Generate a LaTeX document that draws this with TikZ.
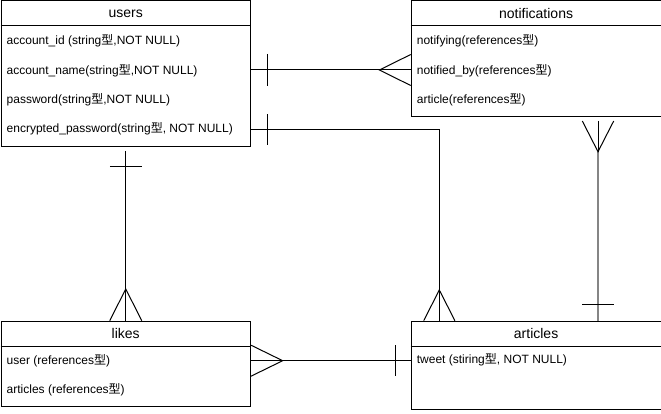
\documentclass[tikz,border=0pt]{standalone}
\usepackage{fontspec}
\setmainfont{Liberation Sans}
\newfontfamily\jpfont{Noto Sans CJK JP}
\newcommand{\kata}{{\jpfont 型}}
\usetikzlibrary{calc}
\definecolor{linkgray}{HTML}{858585}
\tikzset{
  table/.style={draw, line width=1pt, rectangle, inner sep=0pt, anchor=north west},
  head/.style={font=\fontsize{14}{16}\selectfont, inner sep=0pt},
  field/.style={font=\fontsize{12}{14}\selectfont, inner sep=0pt, anchor=west},
  rel/.style={line width=1pt, line cap=butt},
}
\begin{document}
\begin{tikzpicture}[x=1pt, y=-1pt]
\useasboundingbox (0,0) rectangle (661,414);

% ---- tables ----
\node[table, minimum width=249.5pt, minimum height=145.5pt] (users) at (0.5,0.5) {};
\node[table, minimum width=249.8pt, minimum height=115.5pt] (notif) at (410.7,0.5) {};
\node[table, minimum width=249.5pt, minimum height=85.3pt] (likes) at (0.5,320.7) {};
\node[table, minimum width=249.8pt, minimum height=88.6pt] (articles) at (410.7,320.7) {};

% header separators
\foreach \t in {users,notif,likes,articles}
  \draw[rel] ($(\t.north west)+(0,25.5)$) -- ($(\t.north east)+(0,25.5)$);

% headers
\node[head] (usersh) at ($(users.north)+(0,13)$) {users};
\node[head] (notifh) at ($(notif.north)+(0,13)$) {notifications};
\node[head] (likesh) at ($(likes.north)+(0,13)$) {likes};
\node[head] (articlesh) at ($(articles.north)+(0,13)$) {articles};

% fields
\node[field] (u1) at ($(users.north west)+(6,40)$) {account\_id (string\kata,NOT NULL)};
\node[field] (u2) at ($(users.north west)+(6,70)$) {account\_name(string\kata,NOT NULL)};
\node[field] (u3) at ($(users.north west)+(6,99.5)$) {password(string\kata,NOT NULL)};
\node[field] (u4) at ($(users.north west)+(6,128.5)$) {encrypted\_password(string\kata, NOT NULL)};

\node[field] (n1) at ($(notif.north west)+(6,40)$) {notifying(references\kata)};
\node[field] (n2) at ($(notif.north west)+(6,70)$) {notified\_by(references\kata)};
\node[field] (n3) at ($(notif.north west)+(6,99.5)$) {article(references\kata)};

\node[field] (l1) at ($(likes.north west)+(6,40)$) {user (references\kata)};
\node[field] (l2) at ($(likes.north west)+(6,68.6)$) {articles (references\kata)};

\node[field] (a1) at ($(articles.north west)+(6,39.5)$) {tweet (stiring\kata, NOT NULL)};

% ---- relations ----
% users -- notifications
\coordinate (r1a) at ($(users.north east)+(0,69.5)$);
\coordinate (r1b) at ($(notif.north west)+(0,69.5)$);
\draw[rel] (r1a) -- (r1b);
\draw[rel] ($(r1a)+(16,-16)$) -- ($(r1a)+(16,16)$);
\draw[rel] ($(r1b)+(0,-15.5)$) -- ($(r1b)+(-31.3,0)$) -- ($(r1b)+(0,15.5)$);

% users -- articles
\coordinate (r2a) at ($(users.north east)+(0,129.5)$);
\coordinate (r2b) at ($(articles.north west)+(28.6,0)$);
\draw[rel] (r2a) -| (r2b);
\draw[rel] ($(r2a)+(16,-15.5)$) -- ($(r2a)+(16,15.5)$);
\draw[rel] ($(r2b)+(-15.6,0)$) -- ($(r2b)+(0,-30.7)$) -- ($(r2b)+(15.6,0)$);

% notifications -- articles
\coordinate (r3a) at ($(notif.south west)+(187.3,4)$);
\coordinate (r3m) at ($(r3a)+(0,30.7)$);
\coordinate (r3b) at ($(articles.north west)+(187.3,0)$);
\draw[rel] (r3a) -- (r3m);
\draw[line width=1.5pt, linkgray] (r3m) -- (r3b);
\draw[rel] ($(r3a)+(-15.7,0)$) -- (r3m) -- ($(r3a)+(15.7,0)$);
\draw[rel] ($(r3b)+(-16,-16.4)$) -- ($(r3b)+(16,-16.4)$);

% users -- likes
\coordinate (r4a) at ($(users.south)+(0,4)$);
\coordinate (r4b) at (likes.north);
\draw[rel] (r4a) -- (r4b);
\draw[rel] ($(r4a)+(-16,16)$) -- ($(r4a)+(16,16)$);
\draw[rel] ($(r4b)+(-16,0)$) -- ($(r4b)+(0,-31.7)$) -- ($(r4b)+(16,0)$);

% likes -- articles
\coordinate (r5a) at ($(likes.north east)+(0,40)$);
\coordinate (r5b) at ($(articles.north west)+(0,40)$);
\draw[rel] (r5a) -- (r5b);
\draw[rel] ($(r5a)+(0,-15.5)$) -- ($(r5a)+(31.7,0)$) -- ($(r5a)+(0,15.5)$);
\draw[rel] ($(r5b)+(-15.4,-15.5)$) -- ($(r5b)+(-15.4,15.5)$);
\end{tikzpicture}
\end{document}
